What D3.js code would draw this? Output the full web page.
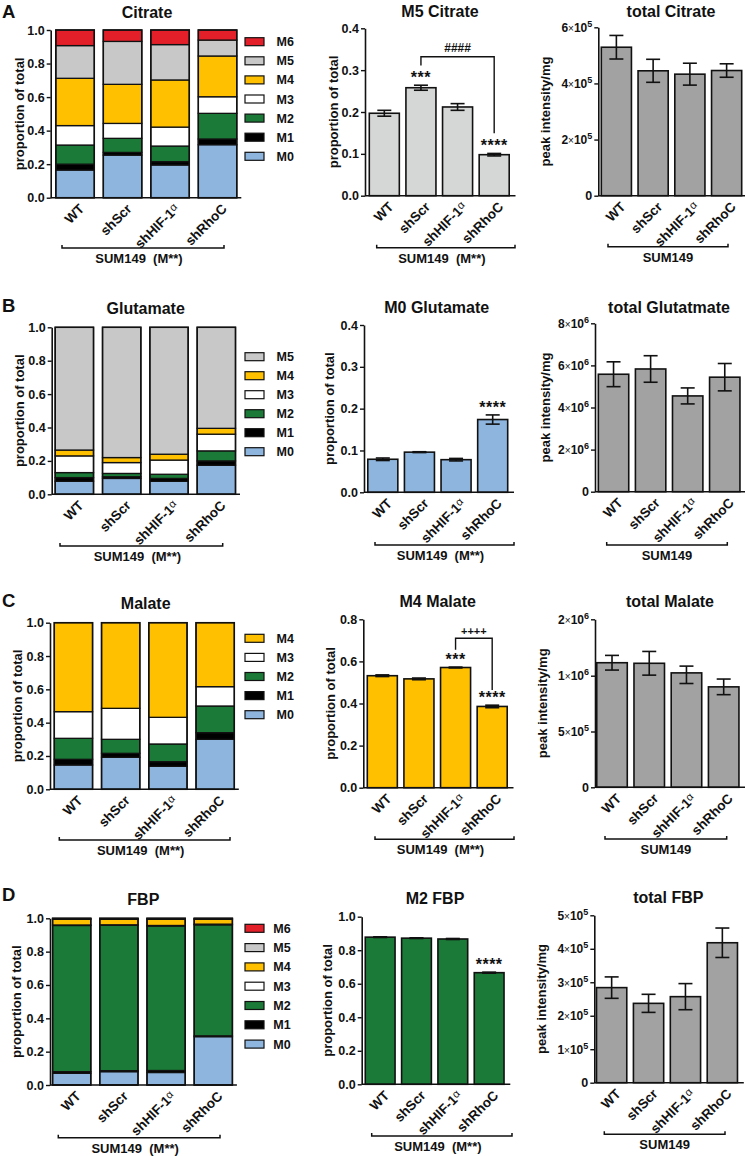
<!DOCTYPE html>
<html><head><meta charset="utf-8">
<script src="https://cdn.jsdelivr.net/npm/d3@7"></script>
<style>
body{margin:0;background:#fff}
svg text{font-family:"Liberation Sans",Arial,Helvetica,sans-serif;font-weight:bold;fill:#111}
</style></head><body>
<svg id="c" width="745" height="1156"></svg>
<script>
// ---------- DATA ----------
const groups = ["WT", "shScr", "shHIF-1α", "shRhoC"];

// Citrate isotopologue fractions (WT, shScr, shHIF-1α, shRhoC)
const citrateM0 = [0.165, 0.254, 0.195, 0.316];
const citrateM1 = [0.035, 0.016, 0.020, 0.034];
const citrateM2 = [0.114, 0.084, 0.093, 0.153];
const citrateM3 = [0.116, 0.089, 0.113, 0.099];
const citrateM4 = [0.282, 0.233, 0.281, 0.243];
const citrateM5 = [0.195, 0.256, 0.211, 0.095];
const citrateM6 = [0.093, 0.068, 0.087, 0.060];

// Glutamate
const glutamateM0 = [0.078, 0.095, 0.078, 0.174];
const glutamateM1 = [0.022, 0.010, 0.017, 0.026];
const glutamateM2 = [0.030, 0.020, 0.025, 0.060];
const glutamateM3 = [0.100, 0.065, 0.085, 0.100];
const glutamateM4 = [0.035, 0.030, 0.035, 0.035];
const glutamateM5 = [0.735, 0.780, 0.760, 0.605];

// Malate
const malateM0 = [0.146, 0.192, 0.138, 0.300];
const malateM1 = [0.034, 0.024, 0.028, 0.040];
const malateM2 = [0.126, 0.084, 0.106, 0.160];
const malateM3 = [0.160, 0.186, 0.160, 0.116];
const malateM4 = [0.534, 0.514, 0.568, 0.384];

// FBP
const fbpM0 = [0.070, 0.080, 0.075, 0.290];
const fbpM1 = [0.010, 0.006, 0.012, 0.005];
const fbpM2 = [0.877, 0.872, 0.867, 0.666];
const fbpM3 = [0.003, 0.003, 0.003, 0.004];
const fbpM4 = [0.034, 0.033, 0.037, 0.029];
const fbpM5 = [0.003, 0.003, 0.003, 0.003];
const fbpM6 = [0.003, 0.003, 0.003, 0.003];

// single isotopologue (mean, SEM)
const m5CitrateMean = [0.197, 0.258, 0.212, 0.098];
const m5CitrateSem  = [0.007, 0.006, 0.008, 0.003];
const m0GlutamateMean = [0.079, 0.096, 0.078, 0.174];
const m0GlutamateSem  = [0.003, 0.001, 0.003, 0.011];
const m4MalateMean = [0.532, 0.517, 0.571, 0.386];
const m4MalateSem  = [0.004, 0.004, 0.002, 0.006];
const m2FbpMean = [0.878, 0.872, 0.867, 0.666];
const m2FbpSem  = [0.002, 0.002, 0.003, 0.003];

// totals (peak intensity/mg, mean, SEM)
const totalCitrateMean = [5.29e5, 4.45e5, 4.33e5, 4.46e5];
const totalCitrateSem  = [0.42e5, 0.41e5, 0.39e5, 0.24e5];
const totalGlutamateMean = [5.58e6, 5.83e6, 4.55e6, 5.44e6];
const totalGlutamateSem  = [0.59e6, 0.63e6, 0.38e6, 0.65e6];
const totalMalateMean = [1.23e6, 1.22e6, 1.05e6, 0.90e6];
const totalMalateSem  = [0.13e6, 0.21e6, 0.12e6, 0.07e6];
const totalFbpMean = [2.84e5, 2.37e5, 2.57e5, 4.18e5];
const totalFbpSem  = [0.32e5, 0.27e5, 0.39e5, 0.44e5];

// tick values
const fracTicks = [0, 0.2, 0.4, 0.6, 0.8, 1.0];
const m5CitrateTicks = [0, 0.1, 0.2, 0.3, 0.4];
const m0GlutamateTicks = [0, 0.1, 0.2, 0.3, 0.4];
const m4MalateTicks = [0, 0.2, 0.4, 0.6, 0.8];
const m2FbpTicks = [0, 0.2, 0.4, 0.6, 0.8, 1.0];
const totalCitrateTicks = [0, 2e5, 4e5, 6e5];
const totalGlutamateTicks = [0, 2e6, 4e6, 6e6, 8e6];
const totalMalateTicks = [0, 5e5, 1e6, 2e6];
const totalFbpTicks = [0, 1e5, 2e5, 3e5, 4e5, 5e5];

// ---------- STYLE ----------
const isoColors = {M0:"#8db5de", M1:"#000000", M2:"#1b7a37", M3:"#ffffff", M4:"#ffc000", M5:"#c8c8c8", M6:"#e3202a"};
const INK = "#111";
const svg = d3.select("#c");

function yAxis(g, y, ticks, sci, ax) {
  const a = d3.axisLeft(y).tickValues(ticks).tickSize(4).tickSizeOuter(0).tickPadding(2)
    .tickFormat(sci ? (d => d) : d3.format(".1f"));
  const ag = g.append("g").attr("transform", `translate(${ax},0)`).call(a);
  ag.select(".domain").attr("stroke", INK).attr("stroke-width", 1.6);
  ag.selectAll(".tick line").attr("stroke", INK).attr("stroke-width", 1.4);
  const t = ag.selectAll(".tick text").attr("font-size", 12.5).attr("fill", INK);
  if (sci) {
    t.each(function(d) {
      const s = d3.select(this);
      s.text(null);
      if (d === 0) { s.text("0"); return; }
      const e = Math.floor(Math.log10(d) + 1e-9);
      const m = Math.round(d / Math.pow(10, e));
      s.attr("font-size", 12);
      s.append("tspan").text(m);
      s.append("tspan").attr("font-size", 10).attr("font-weight", "normal").text("×");
      s.append("tspan").text("10");
      s.append("tspan").attr("font-size", 9).attr("dy", -5).text(e);
    });
  }
}

function xLabels(g, x, bot) {
  g.selectAll("text.xl").data(groups).join("text").attr("class", "xl")
    .attr("transform", d => `translate(${x(d) + x.bandwidth() / 2 + 10},${bot + 12}) rotate(-45)`)
    .attr("text-anchor", "end").attr("font-size", 13.5)
    .each(function(d) {
      const s = d3.select(this);
      if (d.endsWith("α")) {
        s.append("tspan").text(d.slice(0, -1));
        s.append("tspan").attr("font-size", 11).attr("font-weight", "normal").attr("dy", -3).text("α");
      } else s.text(d);
    });
}

function groupBracket(g, b) {
  g.append("path").attr("d", `M${b.x0},${b.y - 3}V${b.y}H${b.x1}V${b.y - 3}`)
    .attr("fill", "none").attr("stroke", INK).attr("stroke-width", 1.5);
  g.append("text").attr("x", (b.x0 + b.x1) / 2 + (b.dx || 0)).attr("y", b.y + 15)
    .attr("text-anchor", "middle").attr("font-size", 13).attr("xml:space", "preserve").text(b.text);
}

function titles(g, c) {
  g.append("text").attr("x", c.titleX).attr("y", c.titleY).attr("text-anchor", "middle")
    .attr("font-size", 16).text(c.title);
  g.append("text").attr("transform", `translate(${c.ylabX},${(c.top + c.bot) / 2}) rotate(-90)`)
    .attr("text-anchor", "middle").attr("dy", "0.35em").attr("font-size", 13).text(c.ylabel);
}

function drawStack(c) {
  const g = svg.append("g");
  const x = d3.scaleBand().domain(groups).range(c.xr).paddingInner(0.19).paddingOuter(0.095);
  const y = d3.scaleLinear().domain([0, 1]).range([c.bot, c.top]);
  const rows = groups.map((grp, i) => { const o = {group: grp}; c.keys.forEach(k => o[k] = c.series[k][i]); return o; });
  const stacked = d3.stack().keys(c.keys)(rows);
  g.selectAll("g.layer").data(stacked).join("g").attr("class", "layer").attr("fill", d => isoColors[d.key])
    .selectAll("rect").data(d => d).join("rect")
    .attr("x", d => x(d.data.group)).attr("width", x.bandwidth())
    .attr("y", d => y(d[1])).attr("height", d => Math.max(0, y(d[0]) - y(d[1])))
    .attr("stroke", INK).attr("stroke-width", 1.3);
  g.selectAll("rect.outline").data(groups).join("rect").attr("class", "outline")
    .attr("x", d => x(d)).attr("width", x.bandwidth()).attr("y", y(1)).attr("height", y(0) - y(1))
    .attr("fill", "none").attr("stroke", INK).attr("stroke-width", 1.5);
  g.append("line").attr("x1", c.ax).attr("x2", c.xr[1]).attr("y1", c.bot).attr("y2", c.bot)
    .attr("stroke", INK).attr("stroke-width", 1.6);
  yAxis(g, y, fracTicks, false, c.ax);
  titles(g, c);
  xLabels(g, x, c.bot);
  groupBracket(g, c.bracket);
  // legend (top = highest isotopologue)
  const leg = c.legendKeys.slice().reverse();
  leg.forEach((k, i) => {
    const cy = c.legY + i * c.legStep;
    g.append("rect").attr("x", c.legX).attr("y", cy - 4).attr("width", 19).attr("height", 8)
      .attr("fill", isoColors[k]).attr("stroke", INK).attr("stroke-width", 1.2);
    g.append("text").attr("x", c.legTX).attr("y", cy + 4.5).attr("font-size", 12.5).text(k);
  });
  // panel letter
  svg.append("text").attr("x", 2).attr("y", c.letterY).attr("font-size", 18.5).text(c.letter);
}

function drawBars(c) {
  const g = svg.append("g");
  const x = d3.scaleBand().domain(groups).range(c.xr).paddingInner(0.18).paddingOuter(0.09);
  const y = d3.scaleLinear().domain(c.domain).range(c.range);
  const cx = d => x(d) + x.bandwidth() / 2;
  const data = groups.map((grp, i) => ({group: grp, m: c.mean[i], s: c.sem[i]}));
  g.selectAll("rect.bar").data(data).join("rect").attr("class", "bar")
    .attr("x", d => x(d.group)).attr("width", x.bandwidth())
    .attr("y", d => y(d.m)).attr("height", d => c.bot - y(d.m))
    .attr("fill", c.fill).attr("stroke", INK).attr("stroke-width", 1.6);
  const eb = g.selectAll("g.eb").data(data).join("g").attr("class", "eb")
    .attr("stroke", INK).attr("stroke-width", 1.6);
  eb.append("line").attr("x1", d => cx(d.group)).attr("x2", d => cx(d.group))
    .attr("y1", d => y(d.m + d.s)).attr("y2", d => y(d.m - d.s));
  eb.append("line").attr("x1", d => cx(d.group) - 7).attr("x2", d => cx(d.group) + 7)
    .attr("y1", d => y(d.m + d.s)).attr("y2", d => y(d.m + d.s));
  eb.append("line").attr("x1", d => cx(d.group) - 7).attr("x2", d => cx(d.group) + 7)
    .attr("y1", d => y(d.m - d.s)).attr("y2", d => y(d.m - d.s));
  g.append("line").attr("x1", c.ax).attr("x2", c.xr[1] + 3).attr("y1", c.bot).attr("y2", c.bot)
    .attr("stroke", INK).attr("stroke-width", 1.6);
  yAxis(g, y, c.ticks, c.sci, c.ax);
  titles(g, c);
  xLabels(g, x, c.bot);
  groupBracket(g, c.bracket);
  (c.stars || []).forEach(st => {
    const d = data[st.i];
    g.append("text").attr("x", cx(d.group)).attr("y", y(d.m + d.s) - 2).attr("text-anchor", "middle")
      .attr("font-size", 16).attr("font-weight", "normal").attr("letter-spacing", 0.5).text(st.text);
  });
  if (c.sig) {
    const s = c.sig, x0 = cx(groups[s.i0]), x1 = cx(groups[s.i1]);
    g.append("path").attr("d", `M${x0},${y(s.left)}V${y(s.level)}H${x1}V${y(s.right)}`)
      .attr("fill", "none").attr("stroke", INK).attr("stroke-width", 1.4);
    g.append("text").attr("x", (x0 + x1) / 2).attr("y", y(s.level) - s.gap).attr("text-anchor", "middle")
      .attr("font-size", s.size).attr("font-weight", "normal").text(s.text);
  }
}

// ---------- ROW A ----------
drawStack({letter: "A", letterY: 18, ax: 50.7, xr: [51.3, 241.3], top: 30, bot: 197.7,
  title: "Citrate", titleX: 147, titleY: 18, ylabel: "proportion of total", ylabX: 19,
  keys: ["M0","M1","M2","M3","M4","M5","M6"],
  series: {M0: citrateM0, M1: citrateM1, M2: citrateM2, M3: citrateM3, M4: citrateM4, M5: citrateM5, M6: citrateM6},
  legendKeys: ["M0","M1","M2","M3","M4","M5","M6"], legX: 245, legTX: 276.5, legY: 41.7, legStep: 19.1,
  bracket: {x0: 62, x1: 224, y: 248, text: "SUM149  (M**)", dx: -4}});
drawBars({ax: 365, xr: [366, 512.5], top: 28.3, bot: 195.7, domain: [0, 0.4], range: [195.7, 28.3],
  ticks: m5CitrateTicks, sci: false, mean: m5CitrateMean, sem: m5CitrateSem, fill: "#d5d7d6",
  title: "M5 Citrate", titleX: 440, titleY: 17, ylabel: "proportion of total", ylabX: 333,
  bracket: {x0: 376.7, x1: 515, y: 247.7, text: "SUM149  (M**)", dx: -4},
  stars: [{i: 1, text: "***"}, {i: 3, text: "****"}],
  sig: {i0: 1, i1: 3, level: 0.332, left: 0.311, right: 0.149, text: "####", size: 12, gap: 5}});
drawBars({ax: 598.3, xr: [598, 745], top: 27.3, bot: 195.7, domain: [0, 6e5], range: [195.7, 27.3],
  ticks: totalCitrateTicks, sci: true, mean: totalCitrateMean, sem: totalCitrateSem, fill: "#a2a2a2",
  title: "total Citrate", titleX: 671, titleY: 17, ylabel: "peak intensity/mg", ylabX: 545,
  bracket: {x0: 608, x1: 728, y: 246.7, text: "SUM149"}});

// ---------- ROW B ----------
drawStack({letter: "B", letterY: 312, ax: 51.7, xr: [50.7, 240], top: 327.3, bot: 494.3,
  title: "Glutamate", titleX: 145.7, titleY: 314, ylabel: "proportion of total", ylabX: 19,
  keys: ["M0","M1","M2","M3","M4","M5"],
  series: {M0: glutamateM0, M1: glutamateM1, M2: glutamateM2, M3: glutamateM3, M4: glutamateM4, M5: glutamateM5},
  legendKeys: ["M0","M1","M2","M3","M4","M5"], legX: 245, legTX: 276.5, legY: 356.7, legStep: 19,
  bracket: {x0: 60, x1: 222.7, y: 546, text: "SUM149  (M**)", dx: -4}});
drawBars({ax: 364, xr: [364.5, 511], top: 325, bot: 492.3, domain: [0, 0.4], range: [492.3, 325],
  ticks: m0GlutamateTicks, sci: false, mean: m0GlutamateMean, sem: m0GlutamateSem, fill: isoColors.M0,
  title: "M0 Glutamate", titleX: 436.7, titleY: 313, ylabel: "proportion of total", ylabX: 329,
  bracket: {x0: 375, x1: 514, y: 545, text: "SUM149  (M**)", dx: -4},
  stars: [{i: 3, text: "****"}]});
drawBars({ax: 595, xr: [595, 743.3], top: 323.3, bot: 491.7, domain: [0, 8e6], range: [491.7, 323.3],
  ticks: totalGlutamateTicks, sci: true, mean: totalGlutamateMean, sem: totalGlutamateSem, fill: "#a2a2a2",
  title: "total Glutatmate", titleX: 669, titleY: 312.7, ylabel: "peak intensity/mg", ylabX: 545,
  bracket: {x0: 606.7, x1: 727.3, y: 545, text: "SUM149"}});

// ---------- ROW C ----------
drawStack({letter: "C", letterY: 607, ax: 50, xr: [49.8, 238.8], top: 622.7, bot: 789.3,
  title: "Malate", titleX: 145.7, titleY: 609, ylabel: "proportion of total", ylabX: 17.5,
  keys: ["M0","M1","M2","M3","M4"],
  series: {M0: malateM0, M1: malateM1, M2: malateM2, M3: malateM3, M4: malateM4},
  legendKeys: ["M0","M1","M2","M3","M4"], legX: 245, legTX: 276.5, legY: 638.3, legStep: 19.1,
  bracket: {x0: 59.3, x1: 230, y: 840, text: "SUM149  (M**)", dx: -4}});
drawBars({ax: 363.3, xr: [364, 510.5], top: 619.3, bot: 787.7, domain: [0, 0.8], range: [787.7, 619.3],
  ticks: m4MalateTicks, sci: false, mean: m4MalateMean, sem: m4MalateSem, fill: isoColors.M4,
  title: "M4 Malate", titleX: 437.7, titleY: 607.3, ylabel: "proportion of total", ylabX: 330,
  bracket: {x0: 375, x1: 514, y: 839.3, text: "SUM149  (M**)", dx: -4},
  stars: [{i: 2, text: "***"}, {i: 3, text: "****"}],
  sig: {i0: 2, i1: 3, level: 0.71, left: 0.655, right: 0.464, text: "++++", size: 11, gap: 3}});
drawBars({ax: 595, xr: [593.4, 742.3], top: 619.3, bot: 787.3, domain: [0, 1e6, 2e6], range: [787.3, 675.7, 619.3],
  ticks: totalMalateTicks, sci: true, mean: totalMalateMean, sem: totalMalateSem, fill: "#a2a2a2",
  title: "total Malate", titleX: 670, titleY: 607.3, ylabel: "peak intensity/mg", ylabX: 542,
  bracket: {x0: 605, x1: 726.7, y: 839, text: "SUM149"}});

// ---------- ROW D ----------
drawStack({letter: "D", letterY: 901, ax: 50, xr: [48.1, 236.9], top: 918.3, bot: 1085,
  title: "FBP", titleX: 143.3, titleY: 905.3, ylabel: "proportion of total", ylabX: 16,
  keys: ["M0","M1","M2","M3","M4","M5","M6"],
  series: {M0: fbpM0, M1: fbpM1, M2: fbpM2, M3: fbpM3, M4: fbpM4, M5: fbpM5, M6: fbpM6},
  legendKeys: ["M0","M1","M2","M3","M4","M5","M6"], legX: 245, legTX: 273.3, legY: 928.3, legStep: 19.3,
  bracket: {x0: 58.3, x1: 220, y: 1137.7, text: "SUM149  (M**)", dx: -4}});
drawBars({ax: 361.7, xr: [362, 507.3], top: 916.7, bot: 1084.3, domain: [0, 1.0], range: [1084.3, 916.7],
  ticks: m2FbpTicks, sci: false, mean: m2FbpMean, sem: m2FbpSem, fill: isoColors.M2,
  title: "M2 FBP", titleX: 435, titleY: 904.3, ylabel: "proportion of total", ylabX: 327,
  bracket: {x0: 371.7, x1: 512, y: 1136, text: "SUM149  (M**)", dx: -4},
  stars: [{i: 3, text: "****"}]});
drawBars({ax: 594.3, xr: [593.2, 740.8], top: 915.3, bot: 1082.7, domain: [0, 5e5], range: [1082.7, 915.3],
  ticks: totalFbpTicks, sci: true, mean: totalFbpMean, sem: totalFbpSem, fill: "#a2a2a2",
  title: "total FBP", titleX: 668.3, titleY: 903.3, ylabel: "peak intensity/mg", ylabX: 541,
  bracket: {x0: 604.3, x1: 725, y: 1134.3, text: "SUM149"}});
</script>
</body></html>
